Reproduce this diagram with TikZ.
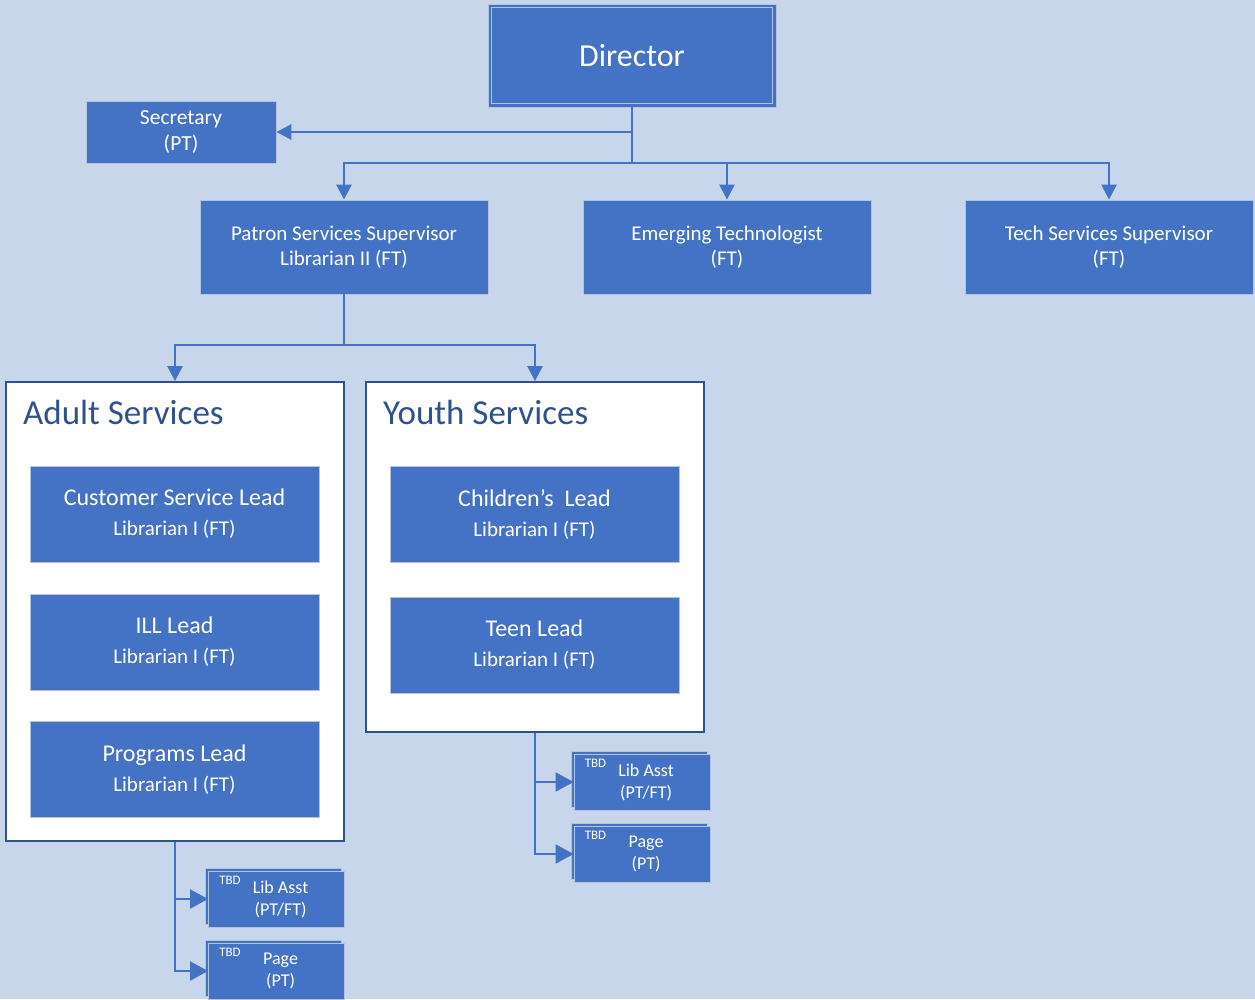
\documentclass[tikz,border=0pt]{standalone}
\usepackage{fontspec}
\setmainfont{Carlito}
\usetikzlibrary{arrows.meta}

\definecolor{bgblue}{HTML}{C8D6EC}
\definecolor{boxblue}{HTML}{4472C4}
\definecolor{framedark}{HTML}{2F528F}
\definecolor{edgegray}{HTML}{B4C3DE}

\newcommand{\rolesub}[1]{{\fontsize{21}{24}\selectfont #1}}

\tikzset{
  role/.style={rectangle,fill=boxblue,draw=edgegray,line width=0.8pt,text=white,
               align=center,minimum width=288pt,minimum height=94pt,
               font=\fontsize{21}{25}\selectfont},
  lead/.style={role,minimum width=289pt,minimum height=96pt,
               font=\fontsize{24}{30}\selectfont},
  smallrole/.style={role,minimum width=136pt,minimum height=56pt,
               font=\fontsize{18}{22}\selectfont,
               preaction={fill=boxblue,draw=edgegray,
                          transform canvas={xshift=-3pt,yshift=3pt}},
               label={[tbdtag]north west:TBD}},
  tbdtag/.style={anchor=north west,xshift=10pt,yshift=-4pt,inner sep=1pt,
               text=white,font=\fontsize{13}{13}\selectfont},
  section/.style={rectangle,fill=white,draw=framedark,line width=1.8pt,
               minimum width=338pt},
  sectitle/.style={anchor=west,text=framedark,inner sep=0pt,
               font=\fontsize{35}{35}\selectfont}
}

\begin{document}
\begin{tikzpicture}[x=1pt,y=-1pt]
\fill[bgblue] (0,0) rectangle (1255,999);

\begin{scope}[every node/.style={role}]
    \node [minimum width=288pt,minimum height=103pt,
           font=\fontsize{32}{32}\selectfont] (dir) at (632,55.5) {Director};
    \node [minimum width=190pt,minimum height=62pt,
           font=\fontsize{21.5}{26}\selectfont] (sec) at (181,132) {Secretary\\(PT)};
    \node (pss) at (344,247) {Patron Services Supervisor\\Librarian II (FT)};
    \node (emt) at (727,247) {Emerging Technologist\\(FT)};
    \node (tss) at (1109,247) {Tech Services Supervisor\\(FT)};
\end{scope}
\draw[edgegray,line width=0.8pt] ([shift={(4pt,-4pt)}]dir.north west) rectangle ([shift={(-4pt,4pt)}]dir.south east);

\node [section,minimum height=459pt] (adult) at (175,611.5) {};
\node [section,minimum height=350pt] (youth) at (535,557) {};
\node [sectitle] (adtitle) at (23,412) {Adult Services};
\node [sectitle] (yttitle) at (383,412) {Youth Services};

\begin{scope}[every node/.style={lead}]
    \node (csl) at (174.5,514) {Customer Service Lead\\\rolesub{Librarian I (FT)}};
    \node (ill) at (174.5,642) {ILL Lead\\\rolesub{Librarian I (FT)}};
    \node (prg) at (174.5,769.5) {Programs Lead\\\rolesub{Librarian I (FT)}};
    \node (chl) at (534.5,514) {Children’s\ \ Lead\\\rolesub{Librarian I (FT)}};
    \node (tnl) at (534.5,645) {Teen Lead\\\rolesub{Librarian I (FT)}};
\end{scope}

\node [smallrole] (alib) at (276.5,899) {\ \ Lib Asst\\\ \ (PT/FT)};
\node [smallrole] (apg) at (276.5,971) {\ \ Page\\\ \ (PT)};
\node [smallrole] (ylib) at (642,782) {\ \ Lib Asst\\\ \ (PT/FT)};
\node [smallrole] (ypg) at (642,854) {\ \ Page\\\ \ (PT)};

\coordinate (hub) at (632,163);
\coordinate (pbr) at (344,345);

\begin{scope}[draw=boxblue,line width=2.6pt,
              >={Triangle[length=15pt,width=15pt,fill=boxblue]}]
    \draw [->] (dir.south) |- (sec.east);
    \draw (dir.south) -- (hub);
    \draw [->] (hub) -| (pss.north);
    \draw [->] (hub) -| (emt.north);
    \draw [->] (hub) -| (tss.north);
    \draw (pss.south) -- (pbr);
    \draw [->] (pbr) -| (adult.north);
    \draw [->] (pbr) -| (youth.north);
\end{scope}

\begin{scope}[draw=boxblue,line width=2.2pt,
              >={Triangle[length=18pt,width=19pt,fill=boxblue]}]
    \draw [->] (adult.south) |- (alib.west);
    \draw [->] (adult.south) |- (apg.west);
    \draw [->] (youth.south) |- (ylib.west);
    \draw [->] (youth.south) |- (ypg.west);
\end{scope}
\end{tikzpicture}
\end{document}
